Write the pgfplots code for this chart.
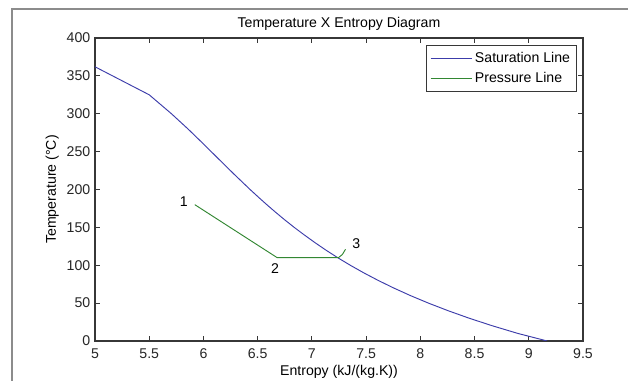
\documentclass[border=0pt]{standalone}
\usepackage{pgfplots}
\pgfplotsset{compat=1.18}
\usepackage{fontspec}
\setmainfont{Liberation Sans}
\definecolor{satblue}{RGB}{60,60,170}
\definecolor{presgreen}{RGB}{50,135,50}
\definecolor{axgray}{RGB}{55,55,55}
\newcommand{\fs}{\fontsize{10.6}{12.5}\selectfont}
\begin{document}
\begin{tikzpicture}
\path[use as bounding box] (-71.25pt,-30pt) rectangle (399.75pt,255.75pt);
\fill[white] (-71.25pt,-30pt) rectangle (399.75pt,255.75pt);
\draw[black!45, line width=0.8pt] (-62.25pt,-31pt) -- (-62.25pt,249pt) -- (401pt,249pt);
\begin{axis}[
  at={(0pt,0pt)}, anchor=south west,
  scale only axis, width=366pt, height=227.25pt,
  xmin=5, xmax=9.5, ymin=0, ymax=400,
  xtick={5,5.5,...,9.5}, ytick={0,50,...,400},
  xticklabels={5,5.5,6,6.5,7,7.5,8,8.5,9,9.5},
  /pgf/number format/assume math mode=true,
  tick align=inside, major tick length=4pt,
  tick style={axgray, line width=0.6pt},
  axis line style={axgray, line width=0.8pt},
  ticklabel style={font=\fs, text=black!85},
  xticklabel style={yshift=-2pt},
  title={Temperature X Entropy Diagram},
  title style={font=\fs, yshift=-4pt},
  xlabel={Entropy (kJ/(kg.K))},
  ylabel={Temperature (°C)},
  label style={font=\fs},
  xlabel style={yshift=2pt},
  ylabel style={yshift=-1pt},
  legend style={at={(0.9877,0.977)}, anchor=north east, draw=axgray, fill=white,
    font=\fs, row sep=2pt, inner sep=3pt},
  legend cell align=left,
  legend image code/.code={\draw[#1] (0pt,0pt) -- (31pt,0pt);},
  clip=true,
]
\addplot[satblue, line width=0.7pt] coordinates {
(5.0,362) (5.5,325) (5.705,300) (5.857,280) (6.001,260) (6.142,240) (6.284,220)
(6.430,200) (6.506,190) (6.584,180) (6.665,170) (6.749,160) (6.837,150) (6.930,140)
(7.027,130) (7.129,120) (7.238,110) (7.354,100) (7.478,90) (7.611,80) (7.754,70)
(7.908,60) (8.075,50) (8.256,40) (8.452,30) (8.666,20) (8.899,10) (9.17,0)
};
\addlegendentry{Saturation Line}
\addplot[presgreen, line width=0.7pt] coordinates {
(5.92,180) (6.68,110) (7.245,110) (7.28,114) (7.31,121)
};
\addlegendentry{Pressure Line}
\node[font=\fs] at (axis cs:5.82,184) {1};
\node[font=\fs] at (axis cs:6.66,96) {2};
\node[font=\fs] at (axis cs:7.41,128) {3};
\end{axis}
\end{tikzpicture}
\end{document}
